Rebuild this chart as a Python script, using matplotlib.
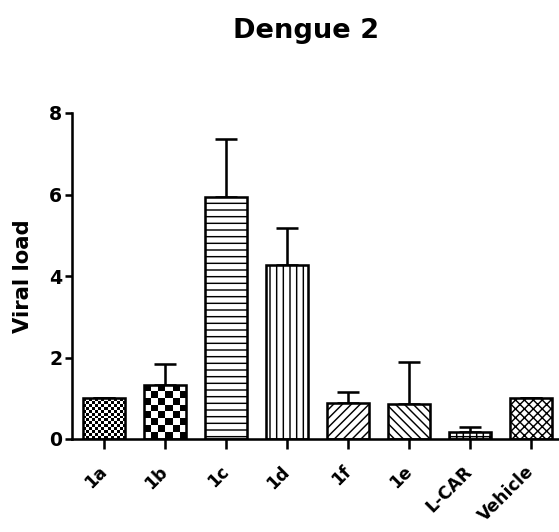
import numpy as np
import matplotlib
matplotlib.use('Agg')
from matplotlib import pyplot as plt

# data
groups = ['1a', '1b', '1c', '1d', '1f', '1e', 'L-CAR', 'Vehicle']
viral_load = [1.0, 1.33, 5.94, 4.28, 0.88, 0.87, 0.17, 1.0]
sem = [0.0, 0.50, 1.42, 0.91, 0.28, 1.03, 0.12, 0.0]
hatches = [None, None, '--', '||', '///', '\\\\\\', '++', 'xxx']
checker_px = {0: 3, 1: 7}   # bars filled with a checkerboard, cell size in px

DPI = 80
plt.rcParams['font.family'] = ['DejaVu Sans']
plt.rcParams['font.weight'] = 'bold'
plt.rcParams['hatch.linewidth'] = 1.3
plt.rcParams['hatch.color'] = 'black'

fig = plt.figure(figsize=(559 / DPI, 532 / DPI), dpi=DPI)
ax = fig.add_axes([72 / 559, 1 - 439 / 532, 1 - 72 / 559, (439 - 113) / 532])

x = np.arange(len(groups))
lw = 2.3
bars = ax.bar(x, viral_load, width=0.69, color='white', edgecolor='black',
              linewidth=lw, zorder=2)
for bar, h in zip(bars, hatches):
    if h:
        bar.set_hatch(h)

ax.errorbar(x, viral_load, yerr=[np.zeros(len(sem)), sem], fmt='none',
            ecolor='black', elinewidth=lw, capsize=10, capthick=lw, zorder=1)

ax.set_xlim(-0.52, 7.46)
ax.set_ylim(0, 8)
ax.set_yticks([0, 2, 4, 6, 8])


def checker_fill(ax, bar, cell_px):
    x0, y0 = bar.get_x(), bar.get_y()
    x1, y1 = x0 + bar.get_width(), y0 + bar.get_height()
    (px0, py0), (px1, py1) = ax.transData.transform([(x0, y0), (x1, y1)])
    nx = max(1, round((px1 - px0) / cell_px))
    ny = max(1, round((py1 - py0) / cell_px))
    grid = np.indices((ny, nx)).sum(axis=0) % 2
    bar.set_facecolor('none')
    im = ax.imshow(grid, cmap='gray', vmin=0, vmax=1, extent=(x0, x1, y0, y1),
                   interpolation='nearest', aspect='auto', zorder=1.5)
    im.set_clip_path(bar)


for i, cell in checker_px.items():
    checker_fill(ax, bars[i], cell)
ax.set_xlim(-0.52, 7.46)
ax.set_ylim(0, 8)

for side in ['top', 'right']:
    ax.spines[side].set_visible(False)
for side in ['left', 'bottom']:
    ax.spines[side].set_linewidth(lw)

ax.tick_params(axis='y', width=lw, length=6.3, labelsize=17, pad=2.5)
ax.tick_params(axis='x', width=lw, length=9, labelsize=15.5, pad=18)
ax.set_xticks(x)
ax.set_xticklabels(groups, rotation=45, ha='right', va='center',
                   rotation_mode='anchor', fontweight='bold')
ax.set_ylabel('Viral load', fontsize=19, fontweight='bold')
ax.yaxis.set_label_coords(-0.08, 0.5)

fig.text(306 / 559, 1 - 38 / 532, 'Dengue 2', ha='center', va='baseline',
         fontsize=24.5, fontweight='bold')

fig.savefig('out.png', dpi=DPI)
